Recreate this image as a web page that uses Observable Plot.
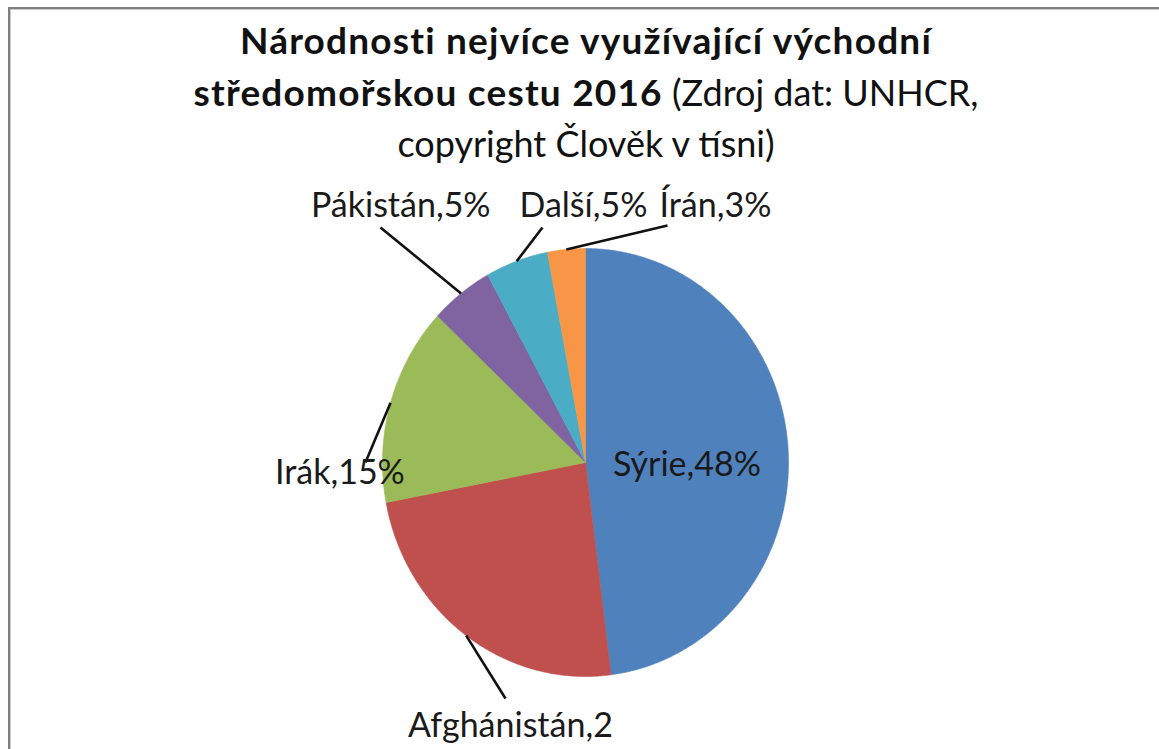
<!DOCTYPE html>
<html>
<head>
<meta charset="utf-8">
<script src="https://cdn.jsdelivr.net/npm/d3@7"></script>
<script src="https://cdn.jsdelivr.net/npm/@observablehq/plot@0.6"></script>
<style>
  html, body { margin: 0; padding: 0; background: #fff; }
  #wrap { position: relative; width: 1159px; height: 749px; overflow: hidden; background: #fff; font-family: Lato, "Open Sans", sans-serif; }
  #frame { position: absolute; left: 8px; top: 7px; right: -10px; bottom: -10px; border-top: 2px solid #7f7f7f; border-left: 2px solid #7f7f7f; box-shadow: inset 1px 1px 0 #c8c8c8; }
  #title { position: absolute; left: 86px; width: 1000px; top: 14px; text-align: center; font-size: 36px; line-height: 51px; color: #111; }
  #title b { font-weight: 700; font-size: 37px; letter-spacing: 1.2px; }
  #chart { position: absolute; left: 0; top: 0; }
</style>
</head>
<body>
<div id="wrap">
  <div id="frame"></div>
  <div id="chart"></div>
  <div id="title"><b>Národnosti nejvíce využívající východní</b><br><b>středomořskou cestu 2016</b> (Zdroj dat: UNHCR,<br>copyright Člověk v tísni)</div>
</div>
<script>
// ---- data ----
const categories = ["Sýrie", "Afghánistán", "Irák", "Pákistán", "Další", "Írán"];
const shares = [48, 24, 15, 5, 5, 3];
const labelTexts = ["Sýrie,48%", "Afghánistán,2", "Irák,15%", "Pákistán,5%", "Další,5%", "Írán,3%"];
const colors = ["#4F81BD", "#C0504D", "#9BBB59", "#8064A2", "#4BACC6", "#F79646"];

// ---- layout (label placement, in pie units; not data) ----
const labelPos = {
  "Sýrie":       {x: 0.50,  y: -0.01},
  "Afghánistán": {x: -0.37, y: -1.23},
  "Irák":        {x: -1.21, y: -0.05},
  "Pákistán":    {x: -0.91, y: 1.20},
  "Další":       {x: -0.01, y: 1.20},
  "Írán":        {x: 0.64,  y: 1.20}
};
const leaderEnd = {
  "Afghánistán": {x: -0.394, y: -1.103},
  "Irák":        {x: -1.084, y: 0.0},
  "Pákistán":    {x: -1.010, y: 1.098},
  "Další":       {x: -0.212, y: 1.098},
  "Írán":        {x: 0.404,  y: 1.107}
};

const arcs = d3.pie().sort(null).value(d => d)(shares);
const poly = [];
arcs.forEach((a, i) => {
  const cat = categories[i];
  poly.push({cat, x: 0, y: 0});
  const n = Math.max(2, Math.ceil((a.endAngle - a.startAngle) / (Math.PI / 360)));
  for (let k = 0; k <= n; k++) {
    const t = a.startAngle + (a.endAngle - a.startAngle) * k / n;
    poly.push({cat, x: Math.sin(t), y: Math.cos(t)});
  }
  poly.push({cat, x: 0, y: 0});
});

const leaders = arcs.map((a, i) => {
  const cat = categories[i];
  const m = (a.startAngle + a.endAngle) / 2;
  const e = leaderEnd[cat];
  return e ? {cat, x1: Math.sin(m), y1: Math.cos(m), x2: e.x, y2: e.y} : null;
}).filter(d => d);

const labels = categories.map((c, i) => ({cat: c, text: labelTexts[i], x: labelPos[c].x, y: labelPos[c].y}));

const chart = Plot.plot({
  width: 1159,
  height: 749,
  margin: 0,
  style: {background: "transparent", fontFamily: "Lato, 'Open Sans', sans-serif"},
  x: {domain: [-1, 1], range: [382, 788], axis: null},
  y: {domain: [-1, 1], range: [676, 248], axis: null},
  color: {domain: categories, range: colors},
  marks: [
    Plot.line(poly, {x: "x", y: "y", z: "cat", fill: "cat", stroke: "cat", strokeWidth: 0.6, curve: "linear"}),
    Plot.link(leaders, {x1: "x1", y1: "y1", x2: "x2", y2: "y2", stroke: "#111", strokeWidth: 2.6}),
    Plot.text(labels, {x: "x", y: "y", text: "text", fontSize: 34, fill: "#1a1a1a", textAnchor: "middle", lineAnchor: "middle"})
  ]
});
document.getElementById("chart").appendChild(chart);
</script>
</body>
</html>
